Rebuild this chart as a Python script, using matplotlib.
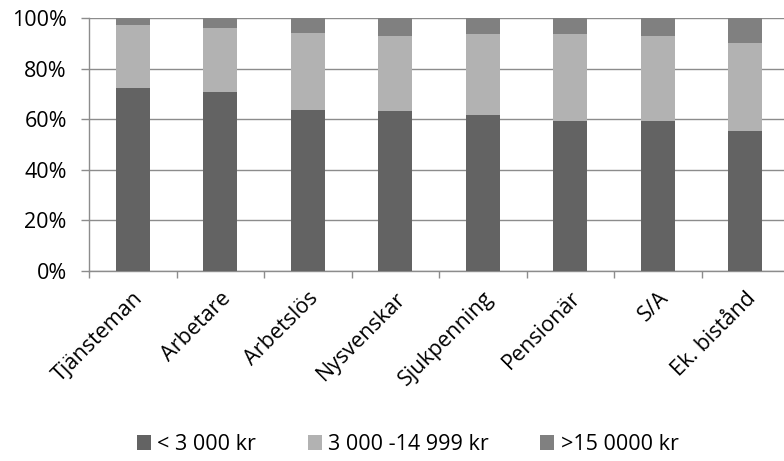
import matplotlib.pyplot as plt
import matplotlib.ticker as mticker
import numpy as np

plt.rcParams['font.family'] = ['Open Sans', 'DejaVu Sans']

categories = ["Tjänsteman", "Arbetare", "Arbetslös", "Nysvenskar",
              "Sjukpenning", "Pensionär", "S/A", "Ek. bistånd"]
low = [72.3, 70.8, 63.8, 63.2, 61.7, 59.4, 59.4, 55.3]
mid = [24.9, 25.4, 30.2, 29.7, 32.0, 34.1, 33.6, 34.8]
high = [2.8, 3.8, 6.0, 7.1, 6.3, 6.5, 7.0, 9.9]
series_names = ["< 3 000 kr", "3 000 -14 999 kr", ">15 0000 kr"]
colors = ["#636363", "#b2b2b2", "#808080"]

fig = plt.figure(figsize=(7.84, 4.61), dpi=100)
ax = fig.add_axes([89 / 784, 1 - 271 / 461, 700 / 784, 253 / 461])

x = np.arange(len(categories))
w = 0.39
bottom = np.zeros(len(categories))
for vals, name, c in zip([low, mid, high], series_names, colors):
    ax.bar(x, vals, w, bottom=bottom, color=c, label=name, zorder=3)
    bottom += np.array(vals)

ax.set_xlim(-0.5, len(categories) - 0.5)
ax.set_ylim(0, 100)
ax.yaxis.set_major_locator(mticker.MultipleLocator(20))
ax.yaxis.set_major_formatter(mticker.FuncFormatter(lambda v, p: f"{v:.0f}%"))
ax.grid(axis='y', color='#8c8c8c', linewidth=1.0, zorder=0)

ax.set_xticks(x)
ax.set_xticklabels(categories, rotation=45, ha='right', rotation_mode='anchor', fontsize=15.5)
ax.set_xticks(np.arange(len(categories) + 1) - 0.5, minor=True)
ax.tick_params(axis='x', which='major', length=0, pad=12)
ax.tick_params(axis='x', which='minor', length=5, color='#8c8c8c', width=1)
ax.tick_params(axis='y', length=6, color='#8c8c8c', width=1, labelsize=15.5, pad=10)

for s in ['top', 'right']:
    ax.spines[s].set_visible(False)
for s in ['left', 'bottom']:
    ax.spines[s].set_color('#8c8c8c')
    ax.spines[s].set_linewidth(1.0)

handles, labels = ax.get_legend_handles_labels()
fig.legend(handles, labels, loc='center', bbox_to_anchor=(0.52, 0.036), ncol=3,
           frameon=False, fontsize=15.5, handlelength=0.65, handleheight=0.65,
           handletextpad=0.3, columnspacing=2.4)

fig.savefig("out.png", dpi=100)
